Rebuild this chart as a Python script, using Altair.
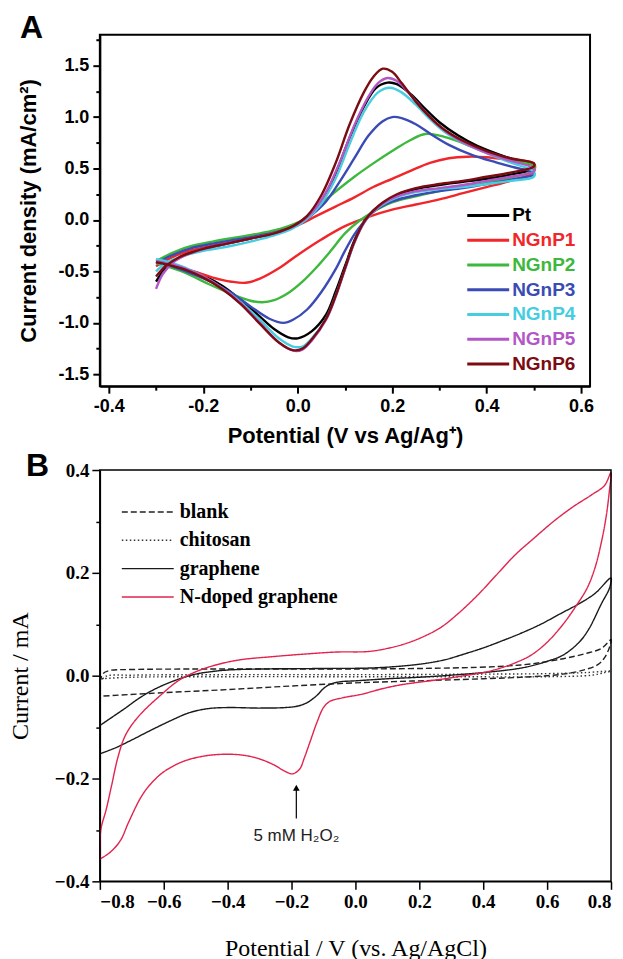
import altair as alt
import pandas as pd

# ---------------- Panel A data (potential V vs Ag/Ag+, current density mA/cm2)
A_SERIES = ["Pt", "NGnP1", "NGnP2", "NGnP3", "NGnP4", "NGnP5", "NGnP6"]
A_COLORS = ["#000000", "#f0262a", "#3cb83c", "#3a4bb5", "#45cde0", "#b357c6", "#7a0c12"]

PT_E = [-0.30, -0.28, -0.25, -0.20, -0.15, -0.10, -0.05, -0.01, 0.02, 0.05, 0.08, 0.11, 0.14, 0.165, 0.19, 0.21,
        0.24, 0.27, 0.30, 0.34, 0.38, 0.43, 0.47, 0.50,
        0.50, 0.45, 0.40, 0.35, 0.30, 0.25, 0.21, 0.18, 0.16, 0.14, 0.12, 0.10, 0.08, 0.06, 0.03, 0.00, -0.02,
        -0.05, -0.08, -0.12, -0.16, -0.20, -0.24, -0.27, -0.30]
PT_J = [-0.60, -0.47, -0.36, -0.28, -0.23, -0.18, -0.13, -0.07, 0.02, 0.18, 0.45, 0.80, 1.10, 1.28, 1.335, 1.32,
        1.22, 1.08, 0.95, 0.82, 0.72, 0.63, 0.57, 0.53,
        0.50, 0.44, 0.40, 0.37, 0.34, 0.30, 0.24, 0.16, 0.09, -0.02, -0.20, -0.45, -0.70, -0.92, -1.08, -1.15, -1.14,
        -1.06, -0.94, -0.78, -0.64, -0.54, -0.47, -0.43, -0.41]

P1_E = [-0.30, -0.27, -0.23, -0.18, -0.13, -0.08, -0.04, 0.00, 0.04, 0.08, 0.12, 0.16, 0.20, 0.24, 0.28, 0.32,
        0.36, 0.40, 0.44, 0.50,
        0.50, 0.45, 0.40, 0.35, 0.30, 0.25, 0.20, 0.15, 0.10, 0.05, 0.00, -0.04, -0.08, -0.11, -0.14, -0.18,
        -0.22, -0.26, -0.30]
P1_J = [-0.45, -0.37, -0.30, -0.25, -0.20, -0.15, -0.10, -0.05, 0.04, 0.13, 0.22, 0.32, 0.40, 0.48, 0.555, 0.60,
        0.615, 0.61, 0.59, 0.55,
        0.47, 0.38, 0.32, 0.26, 0.20, 0.15, 0.10, 0.03, -0.06, -0.19, -0.34, -0.47, -0.57, -0.61, -0.60, -0.56,
        -0.50, -0.45, -0.41]

P2_E = [-0.30, -0.27, -0.23, -0.18, -0.13, -0.08, -0.04, 0.01, 0.06, 0.12, 0.16, 0.20, 0.24, 0.27, 0.30, 0.33,
        0.37, 0.42, 0.46, 0.50,
        0.50, 0.45, 0.40, 0.35, 0.30, 0.25, 0.20, 0.16, 0.13, 0.10, 0.07, 0.04, 0.01, -0.02, -0.05, -0.075,
        -0.10, -0.14, -0.19, -0.24, -0.30]
P2_J = [-0.40, -0.33, -0.26, -0.21, -0.17, -0.13, -0.09, 0.00, 0.20, 0.42, 0.55, 0.67, 0.78, 0.835, 0.82, 0.78,
        0.71, 0.63, 0.57, 0.53,
        0.48, 0.41, 0.36, 0.32, 0.28, 0.23, 0.17, 0.08, -0.01, -0.13, -0.30, -0.46, -0.60, -0.71, -0.78, -0.80,
        -0.785, -0.72, -0.62, -0.51, -0.42]

P3_E = [-0.30, -0.27, -0.23, -0.18, -0.13, -0.08, -0.04, 0.00, 0.03, 0.06, 0.09, 0.12, 0.15, 0.18, 0.20, 0.22,
        0.25, 0.28, 0.32, 0.37, 0.42, 0.46, 0.50,
        0.50, 0.45, 0.40, 0.35, 0.30, 0.25, 0.20, 0.16, 0.14, 0.12, 0.10, 0.08, 0.05, 0.02, -0.01, -0.03, -0.06,
        -0.10, -0.14, -0.18, -0.22, -0.26, -0.30]
P3_J = [-0.42, -0.35, -0.28, -0.23, -0.19, -0.15, -0.11, -0.05, 0.05, 0.18, 0.38, 0.60, 0.82, 0.96, 1.00, 0.99,
        0.93, 0.84, 0.73, 0.63, 0.56, 0.51, 0.46,
        0.44, 0.39, 0.35, 0.31, 0.28, 0.24, 0.18, 0.08, -0.02, -0.14, -0.30, -0.48, -0.70, -0.87, -0.97, -1.00,
        -0.96, -0.84, -0.71, -0.61, -0.53, -0.46, -0.41]

P4_E = [-0.30, -0.28, -0.25, -0.20, -0.15, -0.10, -0.05, -0.01, 0.02, 0.05, 0.08, 0.11, 0.14, 0.17, 0.195, 0.22,
        0.25, 0.28, 0.31, 0.35, 0.40, 0.45, 0.50,
        0.50, 0.45, 0.40, 0.35, 0.30, 0.25, 0.21, 0.18, 0.16, 0.14, 0.12, 0.10, 0.08, 0.06, 0.03, 0.01, -0.01,
        -0.04, -0.08, -0.12, -0.16, -0.20, -0.24, -0.28, -0.30]
P4_J = [-0.50, -0.42, -0.36, -0.30, -0.26, -0.21, -0.15, -0.08, 0.01, 0.16, 0.40, 0.74, 1.05, 1.24, 1.285, 1.24,
        1.12, 0.98, 0.86, 0.75, 0.65, 0.56, 0.47,
        0.42, 0.38, 0.35, 0.32, 0.30, 0.27, 0.22, 0.15, 0.08, -0.03, -0.22, -0.48, -0.74, -0.96, -1.15, -1.23,
        -1.23, -1.15, -0.97, -0.80, -0.66, -0.55, -0.46, -0.40, -0.38]

P5_E = [-0.30, -0.285, -0.26, -0.22, -0.17, -0.12, -0.07, -0.03, 0.00, 0.03, 0.06, 0.09, 0.12, 0.15, 0.17, 0.19,
        0.21, 0.24, 0.27, 0.30, 0.34, 0.39, 0.44, 0.50,
        0.50, 0.45, 0.40, 0.35, 0.30, 0.25, 0.21, 0.18, 0.16, 0.14, 0.12, 0.10, 0.08, 0.06, 0.03, 0.01, -0.01,
        -0.04, -0.08, -0.12, -0.16, -0.20, -0.24, -0.28, -0.30]
P5_J = [-0.67, -0.52, -0.40, -0.31, -0.25, -0.20, -0.15, -0.10, -0.04, 0.07, 0.27, 0.57, 0.92, 1.20, 1.33, 1.38,
        1.35, 1.21, 1.05, 0.91, 0.78, 0.67, 0.59, 0.50,
        0.47, 0.42, 0.38, 0.34, 0.31, 0.28, 0.23, 0.16, 0.08, -0.03, -0.22, -0.48, -0.75, -0.97, -1.17, -1.26,
        -1.27, -1.19, -1.00, -0.81, -0.66, -0.55, -0.47, -0.42, -0.40]

P6_E = [-0.30, -0.28, -0.25, -0.20, -0.15, -0.10, -0.05, -0.01, 0.02, 0.05, 0.08, 0.11, 0.14, 0.16, 0.18, 0.20,
        0.22, 0.25, 0.28, 0.31, 0.35, 0.40, 0.45, 0.50,
        0.50, 0.45, 0.40, 0.35, 0.30, 0.25, 0.21, 0.18, 0.16, 0.14, 0.12, 0.10, 0.08, 0.06, 0.03, 0.01, -0.01,
        -0.04, -0.08, -0.12, -0.16, -0.20, -0.24, -0.28, -0.30]
P6_J = [-0.55, -0.45, -0.36, -0.28, -0.23, -0.18, -0.13, -0.06, 0.04, 0.24, 0.55, 0.93, 1.24, 1.39, 1.47, 1.44,
        1.33, 1.15, 1.00, 0.88, 0.77, 0.67, 0.60, 0.55,
        0.52, 0.46, 0.42, 0.38, 0.35, 0.31, 0.25, 0.17, 0.09, -0.02, -0.21, -0.47, -0.74, -0.96, -1.16, -1.25,
        -1.265, -1.19, -1.01, -0.82, -0.67, -0.56, -0.48, -0.43, -0.41]

A_XTICKS = [-0.4, -0.3, -0.2, -0.1, 0.0, 0.1, 0.2, 0.3, 0.4, 0.5, 0.6]
A_YTICKS = [-1.5, -1.25, -1.0, -0.75, -0.5, -0.25, 0.0, 0.25, 0.5, 0.75, 1.0, 1.25, 1.5, 1.75]

# ---------------- Panel B data (potential V vs Ag/AgCl, current mA)
B_SERIES = ["blank", "chitosan", "graphene", "N-doped graphene"]
B_COLORS = ["#222222", "#333333", "#1a1a1a", "#e2234e"]
B_DASH = [[6, 3], [1.5, 2.5], [1, 0], [1, 0]]

BL_E = [-0.80, -0.79, -0.77, -0.70, -0.50, -0.30, 0.00, 0.30, 0.45, 0.55, 0.65, 0.72, 0.77, 0.80,
        0.795, 0.78, 0.76, 0.72, 0.65, 0.55, 0.40, 0.20, 0.00, -0.20, -0.40, -0.60, -0.80]
BL_I = [-0.012, 0.004, 0.010, 0.012, 0.013, 0.013, 0.013, 0.015, 0.018, 0.023, 0.033, 0.043, 0.053, 0.070,
        0.055, 0.035, 0.022, 0.012, 0.003, -0.002, -0.006, -0.010, -0.014, -0.020, -0.027, -0.033, -0.040]

CH_E = [-0.80, -0.78, -0.70, -0.40, 0.00, 0.40, 0.60, 0.72, 0.80,
        0.78, 0.74, 0.60, 0.30, 0.00, -0.40, -0.70, -0.80]
CH_I = [-0.012, -0.001, 0.001, 0.002, 0.002, 0.003, 0.004, 0.006, 0.009,
        0.006, 0.001, -0.002, -0.002, -0.002, -0.002, -0.003, -0.006]

GR_E = [-0.80, -0.76, -0.72, -0.68, -0.64, -0.60, -0.55, -0.50, -0.45, -0.40, -0.30, -0.10, 0.05, 0.15, 0.22,
        0.28, 0.34, 0.40, 0.46, 0.52, 0.58, 0.64, 0.70, 0.75, 0.80,
        0.795, 0.77, 0.73, 0.70, 0.65, 0.60, 0.55, 0.50, 0.40, 0.30, 0.20, 0.10, 0.00, -0.05, -0.08, -0.10,
        -0.12, -0.15, -0.18, -0.22, -0.30, -0.40, -0.46, -0.52, -0.58, -0.64, -0.70, -0.75, -0.80]
GR_I = [-0.097, -0.080, -0.063, -0.045, -0.030, -0.018, -0.006, 0.003, 0.008, 0.011, 0.013, 0.014, 0.015, 0.019,
        0.024, 0.031, 0.042, 0.054, 0.068, 0.083, 0.100, 0.120, 0.140, 0.160, 0.190,
        0.170, 0.140, 0.090, 0.065, 0.040, 0.028, 0.019, 0.013, 0.006, 0.001, -0.003, -0.006, -0.010, -0.012,
        -0.017, -0.025, -0.038, -0.052, -0.059, -0.062, -0.063, -0.062, -0.064, -0.072, -0.088, -0.106, -0.125,
        -0.140, -0.152]

ND_E = [-0.80, -0.797, -0.78, -0.763, -0.744, -0.72, -0.68, -0.61, -0.55, -0.49, -0.43, -0.36, -0.26, -0.16,
        -0.06, 0.04, 0.10, 0.16, 0.22, 0.27, 0.32, 0.38, 0.44, 0.50, 0.56, 0.62, 0.68, 0.74, 0.78, 0.80,
        0.795, 0.785, 0.77, 0.75, 0.725, 0.69, 0.65, 0.60, 0.55, 0.50, 0.45, 0.40, 0.34, 0.28, 0.22, 0.14, 0.08,
        0.02, -0.04, -0.08, -0.10, -0.12, -0.14, -0.16, -0.175, -0.197, -0.22, -0.26, -0.31, -0.36, -0.42,
        -0.48, -0.54, -0.60, -0.64, -0.67, -0.71, -0.735, -0.765, -0.80]
ND_I = [-0.357, -0.300, -0.260, -0.213, -0.160, -0.116, -0.080, -0.038, -0.008, 0.010, 0.022, 0.031, 0.037,
        0.042, 0.046, 0.047, 0.053, 0.063, 0.078, 0.095, 0.120, 0.155, 0.195, 0.235, 0.268, 0.300, 0.328, 0.352,
        0.370, 0.395,
        0.360, 0.310, 0.260, 0.210, 0.170, 0.135, 0.100, 0.065, 0.040, 0.025, 0.014, 0.006, 0.000, -0.006,
        -0.011, -0.018, -0.026, -0.036, -0.043, -0.050, -0.062, -0.090, -0.125, -0.160, -0.182, -0.191, -0.186,
        -0.172, -0.160, -0.154, -0.153, -0.157, -0.167, -0.187, -0.210, -0.235, -0.285, -0.320, -0.342, -0.357]

B_TICKS = [-0.8, -0.7, -0.6, -0.5, -0.4, -0.3, -0.2, -0.1, 0.0, 0.1, 0.2, 0.3, 0.4, 0.5, 0.6, 0.7, 0.8]
B_YTICKS = [-0.4, -0.3, -0.2, -0.1, 0.0, 0.1, 0.2, 0.3, 0.4]

ARROW_E = [-0.185]
ARROW_TAIL = [-0.278]
ARROW_HEAD = [-0.218]
NOTE_Y = [-0.311]
NOTE_TEXT = ["5 mM H₂O₂"]

WA, HA = 491, 352
WB, HB = 512, 412


def long_frame(pairs):
    rows = []
    for name, (xs, ys) in pairs:
        assert len(xs) == len(ys), name
        for k, (x, y) in enumerate(zip(xs, ys)):
            rows.append({"series": name, "E": x, "I": y, "k": k})
    return pd.DataFrame(rows)


dfA = long_frame(list(zip(A_SERIES, [(PT_E, PT_J), (P1_E, P1_J), (P2_E, P2_J), (P3_E, P3_J),
                                     (P4_E, P4_J), (P5_E, P5_J), (P6_E, P6_J)])))
dfB = long_frame(list(zip(B_SERIES, [(BL_E, BL_I), (CH_E, CH_I), (GR_E, GR_I), (ND_E, ND_I)])))

SANS = "Liberation Sans"
SERIF = "Liberation Serif"
MINOR5 = "abs(datum.value*5 - round(datum.value*5)) > 0.01"
MINOR2 = "abs(datum.value*2 - round(datum.value*2)) > 0.01"

colorA = alt.Scale(domain=A_SERIES, range=A_COLORS)
colorB = alt.Scale(domain=B_SERIES, range=B_COLORS)
dashB = alt.Scale(domain=B_SERIES, range=B_DASH)

one = pd.DataFrame({"t": ["A"]})


def frame_rect(w, h, sw):
    return alt.Chart(one).mark_rect(filled=False, stroke="black", strokeWidth=sw).encode(
        x=alt.value(0), x2=alt.value(w), y=alt.value(0), y2=alt.value(h))


# ---------------- Panel A
def axis_a(minor, title_pad):
    return alt.Axis(
        values=A_XTICKS if minor == MINOR5 else A_YTICKS, grid=False,
        labelExpr=f"{minor} ? '' : replace(format(datum.value, '.1f'), '\u2212', '-')",
        tickSize={"condition": {"test": minor, "value": 4}, "value": 7},
        tickWidth=2, tickColor="black", domainColor="black", domainWidth=2,
        labelFont=SANS, labelFontSize=18, labelFontWeight="bold", labelColor="black", labelPadding=4,
        titleFont=SANS, titleFontSize=22, titleFontWeight="bold", titleColor="black", titlePadding=title_pad,
        labelOverlap=False)

xA = alt.X("E:Q", title="Potential (V vs Ag/Ag⁺)",
           scale=alt.Scale(domain=[-0.419, 0.619], nice=False, zero=False), axis=axis_a(MINOR5, 10))
yA = alt.Y("I:Q", title="Current density (mA/cm²)",
           scale=alt.Scale(domain=[-1.615, 1.80], nice=False, zero=False), axis=axis_a(MINOR2, 17))

linesA = alt.Chart(dfA).mark_line(strokeWidth=2.4, interpolate="catmull-rom").encode(
    x=xA, y=yA, color=alt.Color("series:N", scale=colorA, legend=None), order="k:Q")

legA = alt.Chart(pd.DataFrame({"name": A_SERIES, "i": list(range(len(A_SERIES)))})).transform_calculate(
    py="181 + 24.8 * datum.i")
legA_lines = legA.mark_rule(strokeWidth=3).encode(
    x=alt.value(368), x2=alt.value(410), y=alt.Y("py:Q", scale=None, axis=None),
    color=alt.Color("name:N", scale=colorA, legend=None))
legA_text = legA.mark_text(align="left", baseline="middle", font=SANS, fontSize=19, fontWeight="bold").encode(
    x=alt.value(413), y=alt.Y("py:Q", scale=None, axis=None), text="name:N",
    color=alt.Color("name:N", scale=colorA, legend=None))

tagA = alt.Chart(pd.DataFrame({"t": ["A"]})).mark_text(
    font=SANS, fontSize=32, fontWeight="bold", align="left", baseline="alphabetic", color="black").encode(
    x=alt.value(-80), y=alt.value(3), text="t:N")

chartA = alt.layer(linesA, legA_lines, legA_text, tagA, frame_rect(WA, HA, 2)).properties(width=WA, height=HA)

# ---------------- Panel B
def axis_b(vals, title_pad):
    return alt.Axis(
        values=vals, grid=False,
        labelExpr=f"{MINOR5} ? '' : format(datum.value, '.1f')",
        tickSize={"condition": {"test": MINOR5, "value": 4}, "value": 8},
        tickWidth=1.5, tickColor="black", domainColor="black", domainWidth=1.5,
        labelFont=SERIF, labelFontSize=19, labelFontWeight="bold", labelColor="black", labelPadding=3,
        titleFont=SERIF, titleFontSize=24, titleFontWeight="normal", titleColor="black", titlePadding=title_pad,
        labelOverlap=False)

xB = alt.X("E:Q", title="Potential / V (vs. Ag/AgCl)",
           scale=alt.Scale(domain=[-0.8, 0.8], nice=False, zero=False), axis=axis_b(B_TICKS, 25))
yB = alt.Y("I:Q", title="Current / mA",
           scale=alt.Scale(domain=[-0.4, 0.4], nice=False, zero=False), axis=axis_b(B_YTICKS, 22))

linesB = alt.Chart(dfB).mark_line(strokeWidth=1.4, interpolate="catmull-rom").encode(
    x=xB, y=yB,
    color=alt.Color("series:N", scale=colorB, legend=None),
    strokeDash=alt.StrokeDash("series:N", scale=dashB, legend=None),
    order="k:Q")

ann = alt.Chart(pd.DataFrame({"E": ARROW_E, "y0": ARROW_TAIL, "y1": ARROW_HEAD, "ty": NOTE_Y, "t": NOTE_TEXT}))
arrow_shaft = ann.mark_rule(color="black", strokeWidth=1.2).encode(x="E:Q", y="y0:Q", y2="y1:Q")
arrow_head = ann.mark_point(shape="triangle-up", filled=True, size=45, color="black", opacity=1).encode(
    x="E:Q", y="y1:Q")
note = ann.mark_text(font=SANS, fontSize=17, color="#222222", baseline="middle", align="center").encode(
    x="E:Q", y="ty:Q", text="t:N")

legB = alt.Chart(pd.DataFrame({"name": B_SERIES, "i": list(range(len(B_SERIES)))})).transform_calculate(
    py="42 + 28.4 * datum.i")
legB_lines = legB.mark_rule(strokeWidth=1.4).encode(
    x=alt.value(22), x2=alt.value(74), y=alt.Y("py:Q", scale=None, axis=None),
    color=alt.Color("name:N", scale=colorB, legend=None),
    strokeDash=alt.StrokeDash("name:N", scale=dashB, legend=None))
legB_text = legB.mark_text(align="left", baseline="middle", font=SERIF, fontSize=20, fontWeight="bold",
                           color="black").encode(
    x=alt.value(80), y=alt.Y("py:Q", scale=None, axis=None), text="name:N")

tagB = alt.Chart(pd.DataFrame({"t": ["B"]})).mark_text(
    font=SANS, fontSize=32, fontWeight="bold", align="left", baseline="alphabetic", color="black").encode(
    x=alt.value(-74), y=alt.value(6), text="t:N")

chartB = alt.layer(linesB, arrow_shaft, arrow_head, note, legB_lines, legB_text, tagB,
                   frame_rect(WB, HB, 1.5)).properties(width=WB, height=HB)

chart = alt.vconcat(chartA, chartB, spacing=4).resolve_scale(
    color="independent", strokeDash="independent").properties(
    padding={"left": 0, "top": 3, "right": 0, "bottom": 0}).configure_axis(
    titleColor="black", labelColor="black").configure_view(stroke=None)

chart.save("out.html", embed_options={"renderer": "svg", "actions": False})
